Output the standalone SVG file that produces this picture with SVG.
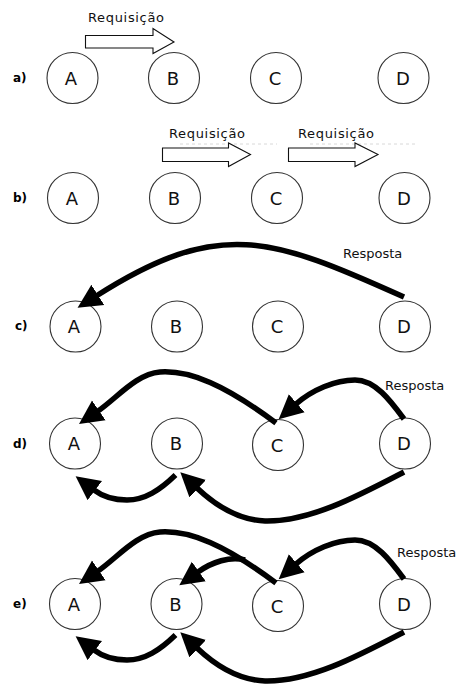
<svg xmlns="http://www.w3.org/2000/svg" width="460" height="684" viewBox="0 0 460 684">
<defs>
<style>
.nd{fill:#fff;stroke:#333;stroke-width:1.1}
.lt{font-family:"DejaVu Sans","Liberation Sans",sans-serif;font-size:18px;fill:#111;text-anchor:middle}
.rl{font-family:"DejaVu Sans","Liberation Sans",sans-serif;font-size:12px;font-weight:bold;fill:#000}
.tx{font-family:"DejaVu Sans","Liberation Sans",sans-serif;font-size:13px;fill:#111}
.blk{fill:#fff;stroke:#111;stroke-width:1.1;stroke-linejoin:miter}
.ar{fill:none;stroke:#000;stroke-width:5.5;stroke-linecap:butt;marker-end:url(#head)}
.faint{stroke:#d8d8d8;stroke-width:1;stroke-dasharray:3 3;fill:none}
</style>
<marker id="head" markerUnits="userSpaceOnUse" markerWidth="26" markerHeight="26" viewBox="0 -13 26 26" refX="1" refY="0" orient="auto">
<path d="M0,-12 L24,0 L0,12 z" fill="#000"/>
</marker>
</defs>

<!-- row labels -->
<text class="rl" x="13" y="82">a)</text>
<text class="rl" x="13" y="202">b)</text>
<text class="rl" x="15" y="330">c)</text>
<text class="rl" x="13" y="448">d)</text>
<text class="rl" x="13" y="608">e)</text>

<!-- row a -->
<g id="a-A"><circle class="nd" cx="72.5" cy="78" r="25.5"/><text class="lt" x="71" y="85">A</text></g>
<g id="a-B"><circle class="nd" cx="174" cy="78" r="25.5"/><text class="lt" x="173" y="85">B</text></g>
<g id="a-C"><circle class="nd" cx="276" cy="78" r="25.5"/><text class="lt" x="275" y="85">C</text></g>
<g id="a-D"><circle class="nd" cx="403.5" cy="78" r="25.5"/><text class="lt" x="403" y="85">D</text></g>

<!-- row b -->
<g id="b-A"><circle class="nd" cx="73" cy="198" r="25.5"/><text class="lt" x="72" y="205">A</text></g>
<g id="b-B"><circle class="nd" cx="175" cy="198" r="25.5"/><text class="lt" x="174" y="205">B</text></g>
<g id="b-C"><circle class="nd" cx="277" cy="198" r="25.5"/><text class="lt" x="276" y="205">C</text></g>
<g id="b-D"><circle class="nd" cx="404.5" cy="198" r="25.5"/><text class="lt" x="404" y="205">D</text></g>

<!-- row c -->
<g id="c-A"><circle class="nd" cx="75.5" cy="326.5" r="25.5"/><text class="lt" x="74" y="333">A</text></g>
<g id="c-B"><circle class="nd" cx="177" cy="326.5" r="25.5"/><text class="lt" x="176" y="333">B</text></g>
<g id="c-C"><circle class="nd" cx="278" cy="326.5" r="25.5"/><text class="lt" x="277" y="333">C</text></g>
<g id="c-D"><circle class="nd" cx="405" cy="326.5" r="25.5"/><text class="lt" x="404" y="333">D</text></g>

<!-- row d -->
<g id="d-A"><circle class="nd" cx="75" cy="443.5" r="25.5"/><text class="lt" x="74" y="450">A</text></g>
<g id="d-B"><circle class="nd" cx="177" cy="443.5" r="25.5"/><text class="lt" x="176" y="450">B</text></g>
<g id="d-C"><circle class="nd" cx="278" cy="445" r="25.5"/><text class="lt" x="277" y="452">C</text></g>
<g id="d-D"><circle class="nd" cx="405" cy="443.5" r="25.5"/><text class="lt" x="404" y="450">D</text></g>

<!-- row e -->
<g id="e-A"><circle class="nd" cx="75" cy="604" r="25.5"/><text class="lt" x="74" y="611">A</text></g>
<g id="e-B"><circle class="nd" cx="176.5" cy="604" r="25.5"/><text class="lt" x="175.5" y="611">B</text></g>
<g id="e-C"><circle class="nd" cx="278" cy="606" r="25.5"/><text class="lt" x="277" y="613">C</text></g>
<g id="e-D"><circle class="nd" cx="405" cy="604" r="25.5"/><text class="lt" x="404" y="611">D</text></g>

<!-- connectors -->
<g id="connectors">
<!-- a: request A to B -->
<text class="tx" x="88" y="22" textLength="76">Requisição</text>
<polygon class="blk" points="85.5,35.5 153,35.5 153,28.5 174,42 153,53.5 153,48 85.5,48"/>

<!-- b: requests B to C, C to D -->
<line class="faint" x1="180" y1="144" x2="277" y2="144"/>
<line class="faint" x1="310" y1="144" x2="417" y2="144"/>
<text class="tx" x="169" y="138" textLength="76">Requisição</text>
<polygon class="blk" points="162.5,148 228.5,148 228.5,143 250.5,154.5 228.5,166.5 228.5,161.5 162.5,161.5"/>
<text class="tx" x="298" y="138" textLength="76">Requisição</text>
<polygon class="blk" points="288.5,148 355,148 355,143 378,154.5 355,166.5 355,161.5 288.5,161.5"/>

<!-- c: response D to A -->
<text class="tx" x="343" y="258">Resposta</text>
<path class="ar" d="M404,297 C271,237 219,218 97,295.5"/>

<!-- d -->
<text class="tx" x="385" y="390">Resposta</text>
<path class="ar" d="M276,423 C225,385 190,370 160,372 C136,374 117,398 98,411"/>
<path class="ar" d="M404,419 C390,400 375,380 355,380 C335,380 312,390 296,404"/>
<path class="ar" d="M175.5,475 C160,490 145,500 127,500 C112,500 102,496 94,490"/>
<path class="ar" d="M404,472 C360,495 310,522 265,521 C240,520 216,506 197,488"/>

<!-- e -->
<text class="tx" x="397" y="557">Resposta</text>
<path class="ar" d="M276,583 C225,545 190,530 160,532 C136,534 117,558 98,571"/>
<path class="ar" d="M245,560 C230,556 212,562 198,572"/>
<path class="ar" d="M404,579 C390,560 375,540 355,540 C335,540 312,550 296,564"/>
<path class="ar" d="M175.5,635 C160,650 145,660 127,660 C112,660 102,656 94,650"/>
<path class="ar" d="M404,632 C360,655 310,682 265,681 C240,680 216,666 197,648"/>
</g>
</svg>
